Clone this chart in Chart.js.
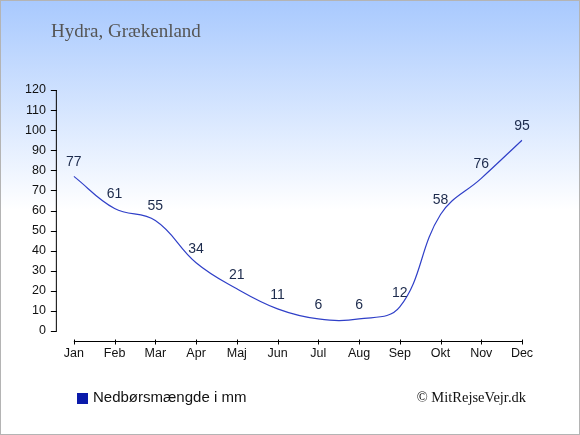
<!DOCTYPE html>
<html>
<head>
<meta charset="utf-8">
<script src="https://cdn.jsdelivr.net/npm/chart.js@4.4.1/dist/chart.umd.min.js"></script>
<style>
  html, body { margin: 0; padding: 0; background: #fff; }
  #wrap { width: 580px; height: 435px; position: relative; }
</style>
</head>
<body>
<div id="wrap"><canvas id="graph1" width="580" height="435"></canvas></div>
<script>
const months = ['Jan', 'Feb', 'Mar', 'Apr', 'Maj', 'Jun', 'Jul', 'Aug', 'Sep', 'Okt', 'Nov', 'Dec'];
const rain = [77, 61, 55, 34, 21, 11, 6, 6, 12, 58, 76, 95];
const yTicks = [0, 10, 20, 30, 40, 50, 60, 70, 80, 90, 100, 110, 120];

const titleText = 'Hydra, Grækenland';
const legendText = 'Nedbørsmængde i mm';
const creditText = '© MitRejseVejr.dk';

// background gradient + border
const bgPlugin = {
  id: 'bg',
  beforeDraw(chart) {
    const c = chart.ctx;
    const g = c.createLinearGradient(0, 0, 0, 210);
    g.addColorStop(0, '#a8c9fe');
    g.addColorStop(1, '#ffffff');
    c.save();
    c.fillStyle = g;
    c.fillRect(0, 0, chart.width, chart.height);
    c.strokeStyle = '#b4b4b4';
    c.lineWidth = 1;
    c.strokeRect(0.5, 0.5, chart.width - 1, chart.height - 1);
    c.restore();
  }
};

// axes, labels, title, legend
const decoPlugin = {
  id: 'deco',
  afterDatasetsDraw(chart) {
    const c = chart.ctx;
    const x = chart.scales.x, y = chart.scales.y;
    const ax = x.getPixelForValue(0) - 18;
    const ay = y.getPixelForValue(0) + 10;
    c.save();
    c.strokeStyle = '#000';
    c.lineWidth = 1;
    c.beginPath();
    c.moveTo(ax + 0.5, y.getPixelForValue(120));
    c.lineTo(ax + 0.5, y.getPixelForValue(0));
    yTicks.forEach(v => {
      const py = Math.round(y.getPixelForValue(v)) + 0.5;
      c.moveTo(ax - 5, py);
      c.lineTo(ax + 1, py);
    });
    const ly = Math.round(ay) + 0.5;
    c.moveTo(x.getPixelForValue(0), ly);
    c.lineTo(x.getPixelForValue(months.length - 1), ly);
    months.forEach((m, i) => {
      const px = Math.round(x.getPixelForValue(i)) + 0.5;
      c.moveTo(px, ly - 2);
      c.lineTo(px, ly + 3);
    });
    c.stroke();

    // value labels
    c.fillStyle = '#1c2a4c';
    c.font = '14px Arial, "Liberation Sans", sans-serif';
    c.textAlign = 'center';
    c.textBaseline = 'middle';
    rain.forEach((v, i) => {
      c.fillText(String(v), x.getPixelForValue(i), y.getPixelForValue(v) - 14);
    });

    // title
    c.fillStyle = '#555555';
    c.font = '19px "Liberation Serif", "Times New Roman", serif';
    c.textAlign = 'left';
    c.fillText(titleText, 51, 32);

    // legend
    c.fillStyle = '#0a1aaa';
    c.fillRect(77, 393, 11, 11);
    c.fillStyle = '#111';
    c.font = '15px Arial, "Liberation Sans", sans-serif';
    c.fillText(legendText, 93, 398);

    // credit
    c.font = '14.5px "Liberation Serif", "Times New Roman", serif';
    c.textAlign = 'right';
    c.fillText(creditText, 526, 398);
    c.restore();
  }
};

const ctx = document.getElementById('graph1');

const data = {
  labels: months,
  datasets: [{
    data: rain,
    borderColor: '#3040c8',
    borderWidth: 1.2,
    pointRadius: 0,
    tension: 0.4,
    fill: false
  }]
};

const config = {
  type: 'line',
  data: data,
  options: {
    responsive: false,
    animation: false,
    devicePixelRatio: 1,
    layout: { padding: { left: -3, right: 58, top: 90, bottom: 59 } },
    plugins: { legend: { display: false }, title: { display: false }, tooltip: { enabled: false } },
    scales: {
      x: {
        offset: false,
        grid: { display: false, drawTicks: false },
        border: { display: false },
        ticks: { color: '#111', padding: 15, maxRotation: 0, autoSkip: false,
                 font: { family: 'Arial, "Liberation Sans", sans-serif', size: 12.5 } }
      },
      y: {
        min: 0, max: 120,
        afterBuildTicks: s => { s.ticks = yTicks.map(v => ({ value: v })); },
        grid: { display: false, drawTicks: false },
        border: { display: false },
        ticks: { color: '#111', padding: 28,
                 font: { family: 'Arial, "Liberation Sans", sans-serif', size: 12.5 } }
      }
    }
  },
  plugins: [bgPlugin, decoPlugin]
};

const graph1 = new Chart(ctx, config);
</script>
</body>
</html>
